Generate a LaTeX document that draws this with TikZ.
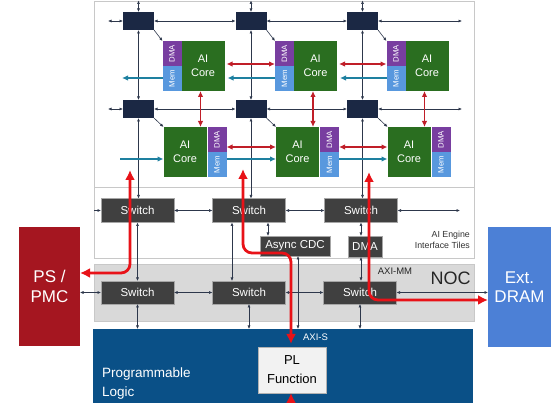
\documentclass[tikz,border=0pt]{standalone}
\usepackage{fontspec}
\usepackage{graphicx}
\setmainfont{Liberation Sans}
\usetikzlibrary{arrows.meta}
\definecolor{navy}{RGB}{27,40,68}
\definecolor{coregreen}{RGB}{42,110,32}
\definecolor{dmapurple}{RGB}{120,62,160}
\definecolor{memblue}{RGB}{88,152,222}
\definecolor{smred}{RGB}{192,30,40}
\definecolor{tealc}{RGB}{30,128,160}
\definecolor{bigredc}{RGB}{232,18,24}
\definecolor{swgray}{RGB}{64,64,64}
\definecolor{panelline}{RGB}{200,200,200}
\definecolor{nocfill}{RGB}{217,217,217}
\definecolor{plblue}{RGB}{10,80,135}
\definecolor{psred}{RGB}{165,22,32}
\definecolor{dramblue}{RGB}{76,128,214}
\definecolor{connc}{RGB}{45,55,75}
\definecolor{pffill}{RGB}{242,242,242}
\begin{document}
\begin{tikzpicture}[x=1pt,y=-1pt,
 box/.style={rectangle,inner sep=0pt,outer sep=0pt},
 panel/.style={box,draw=panelline,line width=1pt,minimum width=380pt},
 navybox/.style={box,fill=navy,minimum width=31pt,minimum height=18pt},
 corebox/.style={box,fill=coregreen,minimum width=43pt,minimum height=50pt,text=white,font=\fontsize{11}{13.5}\selectfont,align=center},
 dmabox/.style={box,fill=dmapurple,minimum width=19pt,minimum height=25pt,text=white,font=\fontsize{7.8}{8}\selectfont},
 membox/.style={box,fill=memblue,minimum width=19pt,minimum height=25pt,text=white,font=\fontsize{7.8}{8}\selectfont},
 swbox/.style={box,fill=swgray,draw=gray!70,line width=0.4pt,minimum width=73pt,minimum height=24pt,text=white,font=\fontsize{11.5}{13}\selectfont},
 conn/.style={draw=connc,line width=0.6pt,{Latex[length=3.5pt,width=3pt]}-{Latex[length=3.5pt,width=3pt]}},
 connone/.style={draw=connc,line width=0.6pt,-{Latex[length=3.5pt,width=3pt]}},
 redsm/.style={draw=smred,line width=1.1pt,{Latex[length=6pt,width=5.5pt]}-{Latex[length=6pt,width=5.5pt]}},
 tealar/.style={draw=tealc,line width=1.1pt,-{Latex[length=6pt,width=5.5pt]}},
 bigar/.style={draw=bigredc,line width=2.8pt,rounded corners=9pt,{Latex[length=10pt,width=10pt]}-{Latex[length=10pt,width=10pt]}},
 bigarone/.style={draw=bigredc,line width=2.8pt,-{Latex[length=10pt,width=10pt]}},
]
\useasboundingbox[fill=white] (0,0) rectangle (552,403);
% panels
\node[panel,fill=white,minimum height=186pt] (arr) at (284,95) {};
\node[panel,fill=white,minimum height=71pt] (itp) at (284,223.5) {};
\node[panel,fill=nocfill,minimum height=57pt] (nocp) at (284,293.5) {};
\node[box,fill=plblue,minimum width=380pt,minimum height=74pt] (pl) at (283,366) {};
\node[box,fill=psred,minimum width=61pt,minimum height=119pt,text=white,align=center,font=\fontsize{17}{20}\selectfont] (ps) at (49.5,286.5) {PS /\\PMC};
\node[box,fill=dramblue,minimum width=63pt,minimum height=120pt,text=white,align=center,font=\fontsize{17}{19}\selectfont] (dram) at (519.5,287) {Ext.\\DRAM};
% AI engine tiles
\foreach \i/\cx in {1/138.5,2/251,3/362.5}{
 \node[navybox] (b1\i) at (\cx,21) {};
 \node[navybox] (b2\i) at (\cx,109) {};
 \node[dmabox] (d1\i) at (\cx+33.5,53.5) {\rotatebox{90}{DMA}};
 \node[membox] (m1\i) at (\cx+33.5,78.5) {\rotatebox{90}{Mem}};
 \node[corebox] (c1\i) at (\cx+64.5,66) {AI\\Core};
 \node[corebox] (c2\i) at (\cx+46.5,152) {AI\\Core};
 \node[dmabox] (d2\i) at (\cx+78.5,139.5) {\rotatebox{90}{DMA}};
 \node[membox] (m2\i) at (\cx+78.5,164.5) {\rotatebox{90}{Mem}};
}
% interface + NOC boxes
\node[swbox] (s11) at (137.5,210.5) {Switch};
\node[swbox] (s12) at (249,210.5) {Switch};
\node[swbox] (s13) at (361,210.5) {Switch};
\node[swbox,minimum width=70pt,minimum height=20pt] (acdc) at (295,246) {Async CDC};
\node[swbox,minimum width=34pt,minimum height=21pt] (idma) at (365,246.5) {DMA};
\node[swbox,minimum height=23pt] (s21) at (137.5,292.5) {Switch};
\node[swbox,minimum height=23pt] (s22) at (249,292.5) {Switch};
\node[swbox,minimum height=23pt] (s23) at (360,292.5) {Switch};
\node[box,fill=pffill,draw=gray!60,minimum width=68pt,minimum height=46pt,align=center,font=\fontsize{13}{19}\selectfont] (pf) at (292,370) {PL\\Function};
% labels
\node[inner sep=0pt,anchor=east,align=right,text=black!80,font=\fontsize{8.8}{11}\selectfont] (aeit) at (470,239.5) {AI Engine\\Interface Tiles};
\node[inner sep=0pt,text=black!85,font=\fontsize{18}{20}\selectfont] (noclbl) at (450.5,278) {NOC};
\node[inner sep=0pt,text=black!85,font=\fontsize{9.5}{11}\selectfont] (aximm) at (395,271) {AXI-MM};
\node[inner sep=0pt,text=white,font=\fontsize{9.5}{11}\selectfont] (axis) at (315.5,337) {AXI-S};
\node[inner sep=0pt,anchor=west,align=left,text=white,font=\fontsize{13.5}{19}\selectfont] (plt) at (102,384) {Programmable\\Logic};
% AI array thin connectors
\coordinate (L1) at (108,21); \coordinate (R1) at (462,21);
\coordinate (L2) at (108,109); \coordinate (R2) at (462,109);
\draw[conn] (L1) -- (b11.west);
\draw[conn] (b11.east) -- (b12.west);
\draw[conn] (b12.east) -- (b13.west);
\draw[conn] (b13.east) -- (R1);
\draw[conn] (L2) -- (b21.west);
\draw[conn] (b21.east) -- (b22.west);
\draw[conn] (b22.east) -- (b23.west);
\draw[conn] (b23.east) -- (R2);
\foreach \i in {1,2,3}{
 \path (b1\i.north) ++(0,-11.5) coordinate (t\i);
 \draw[conn] (b1\i.north) -- (t\i);
 \draw[conn] (b1\i.south) -- (b2\i.north);
 \draw[conn] (b2\i.south) -- (b2\i.south |- s1\i.north);
 \draw[connone] (b1\i.south east) -- (d1\i.north west);
 \draw[connone] (b2\i.south east) -- (c2\i.north west);
}
% red and teal tile links
\coordinate (ry1) at (0,64); \coordinate (ty1) at (0,78);
\coordinate (ry2) at (0,147); \coordinate (ty2) at (0,159);
\draw[redsm,shorten <=2pt] (c11.east |- ry1) -- (d12.west |- ry1);
\draw[redsm,shorten <=2pt] (c12.east |- ry1) -- (d13.west |- ry1);
\draw[redsm] (d21.east |- ry2) -- (c22.west |- ry2);
\draw[redsm] (d22.east |- ry2) -- (c23.west |- ry2);
\coordinate (tl1) at (122,78);
\coordinate (tl2) at (120,159);
\draw[tealar] (m11.west |- ty1) -- (tl1);
\draw[tealar,shorten >=3pt] (m12.west |- ty1) -- (c11.east |- ty1);
\draw[tealar,shorten >=3pt] (m13.west |- ty1) -- (c12.east |- ty1);
\draw[tealar] (tl2) -- (c21.west |- ty2);
\draw[tealar] (m21.east |- ty2) -- (c22.west |- ty2);
\draw[tealar] (m22.east |- ty2) -- (c23.west |- ty2);
\foreach \i in {1,2,3}{
 \coordinate (v\i) at ([xshift=-2.5pt]c1\i.south);
 \draw[redsm] (v\i) -- (v\i |- c2\i.north);
}
% interface connectors
\coordinate (il) at (94,210.5); \coordinate (ir) at (460,210.5);
\draw[connone] (il) -- (s11.west);
\draw[conn] (s11.east) -- (s12.west);
\draw[conn] (s12.east) -- (s13.west);
\draw[conn] (s13.east) -- (ir);
\draw[conn] (s11.south) -- (s21.north);
\coordinate (va) at ([xshift=-17pt]s12.south);
\draw[conn] (va) -- (va |- s22.north);
\coordinate (vb) at ([xshift=19pt]s12.south);
\draw[conn] (vb) -- (vb |- acdc.north);
\coordinate (vc) at ([xshift=3pt]acdc.south);
\draw[conn] (vc) -- (vc |- pl.north);
\draw[conn] (s13.south) -- (s13.south |- idma.north);
\draw[conn] (idma.south -| s13.south) -- (s13.south |- s23.north);
% NOC connectors
\draw[conn] (ps.east |- s21.west) -- (s21.west);
\draw[conn] (s21.east) -- (s22.west);
\draw[conn] (s22.east) -- (s23.west);
\draw[conn] (s23.east) -- (dram.west |- s23.east);
\foreach \i in {1,2,3}{
 \draw[conn] (s2\i.south) -- (s2\i.south |- pl.north);
}
% big red paths
\coordinate (r1a) at (130,170); \coordinate (r1c) at (130,273);
\draw[bigar] (r1a) -- (r1c) -- (ps.east |- r1c);
\coordinate (r2a) at (243,169); \coordinate (r2b) at (243,253); \coordinate (r2c) at (291,253);
\draw[bigar,shorten >=3pt] (r2a) -- (r2b) -- (r2c) -- (r2c |- pf.north);
\coordinate (r2d) at (291,403.5);
\draw[bigarone] (r2d) -- (r2d |- pf.south);
\coordinate (r3a) at (369,172); \coordinate (r3b) at (369,300);
\draw[bigar] (r3a) -- (r3b) -- (dram.west |- r3b);
\end{tikzpicture}
\end{document}
